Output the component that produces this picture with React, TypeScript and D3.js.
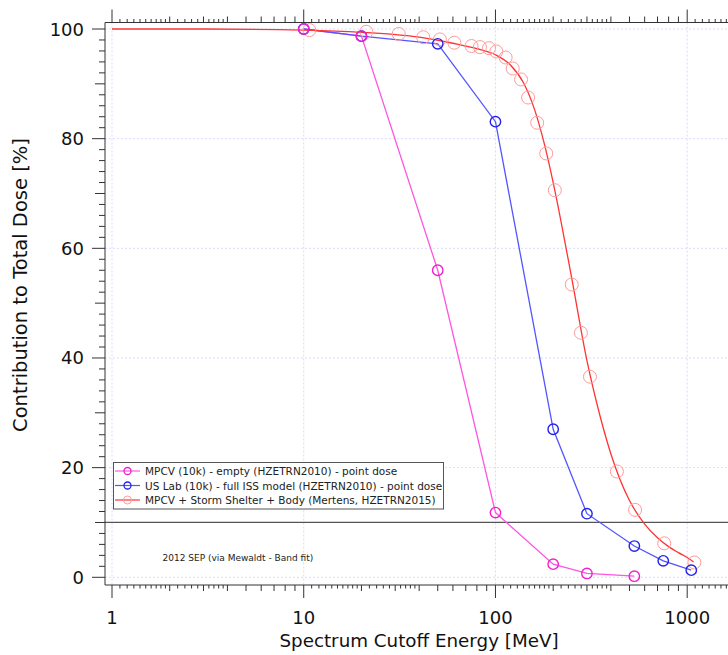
import React from 'react';
import * as d3 from 'd3';

// MPCV (10k) - empty, point dose
const mpcvEnergy = [10, 20, 50, 100, 200, 300, 530];
const mpcvDose = [100, 98.7, 56, 11.8, 2.4, 0.7, 0.2];

// US Lab (10k) - full ISS model, point dose
const labEnergy = [10, 20, 50, 100, 200, 300, 530, 750, 1050];
const labDose = [100, 98.7, 97.3, 83.1, 27.0, 11.6, 5.7, 3.0, 1.3];

// MPCV + Storm Shelter + Body (markers)
const shelterEnergy = [10.7, 21.2, 31.3, 42, 51.3, 61, 75, 83, 92.5, 101, 113, 123, 136, 148, 165, 184, 204, 250, 279, 311, 430, 535, 759, 1090];
const shelterDose = [99.8, 99.5, 99.1, 98.5, 98.1, 97.5, 96.9, 96.7, 96.5, 95.9, 94.8, 92.8, 90.8, 87.5, 82.9, 77.3, 70.6, 53.4, 44.6, 36.6, 19.3, 12.3, 6.2, 2.7];

// Band fit curve for the shelter case
const fitEnergy = [1, 3, 10, 20, 40, 60, 80, 100, 120, 140, 160, 180, 200, 250, 300, 350, 400, 500, 600, 700, 800, 900, 1000, 1080];
const fitDose = [100, 100, 99.8, 99.4, 98.5, 97.4, 96.4, 95.3, 93.4, 90.2, 85.3, 79.0, 72.0, 54.5, 39.5, 29.6, 22.5, 14.0, 9.7, 7.2, 5.6, 4.5, 3.6, 2.8];

const xTickLabels = [1, 10, 100, 1000];
const yTickLabels = [0, 20, 40, 60, 80, 100];
const referenceLevel = 10;

const legendItems = [
  { label: 'MPCV (10k) - empty (HZETRN2010) - point dose', line: '#ff55e0', mark: '#ee22cc', r: 3.5, sw: 1.3 },
  { label: 'US Lab (10k) - full ISS model (HZETRN2010) - point dose', line: '#5555ff', mark: '#2222ee', r: 3.5, sw: 1.3 },
  { label: 'MPCV + Storm Shelter + Body (Mertens, HZETRN2015)', line: '#ff3333', mark: '#ff9a9a', r: 4, sw: 1 },
];

const W = 728;
const H = 655;
const FONT = '"DejaVu Sans", Verdana, sans-serif';

const App = () => {
  const x = d3.scaleLog().domain([1, 1000]).range([112, 687.2]);
  const y = d3.scaleLinear().domain([0, 100]).range([577.3, 29]);

  const left = 105;
  const bottom = 585;
  const top = 22.5;

  // log minor ticks: fine / medium per decade
  const fineMult = [1.1, 1.2, 1.3, 1.4, 1.5, 1.6, 1.7, 1.8, 1.9, 2.2, 2.4, 2.6, 2.8, 3.2, 3.4, 3.6, 3.8];
  const midMult = [2, 3, 4, 5, 6, 7, 8, 9];
  const decades = [1, 10, 100, 1000];
  const xTicks: { v: number; len: number }[] = [];
  decades.forEach(d => {
    xTicks.push({ v: d, len: 13 });
    fineMult.forEach(m => xTicks.push({ v: d * m, len: 3.5 }));
    midMult.forEach(m => xTicks.push({ v: d * m, len: 6 }));
  });
  const xTicksVis = xTicks.filter(t => x(t.v) <= W);

  const yTicks = d3.range(0, 101, 2).map(v => ({
    v,
    len: v % 20 === 0 ? 13 : v % 10 === 0 ? 10 : 6,
  }));

  const lineGen = (xs: number[], ys: number[]) =>
    d3.line<number>().x(i => x(xs[i])).y(i => y(ys[i]))(d3.range(xs.length)) || '';

  const fitPath =
    d3.line<number>()
      .x(i => x(fitEnergy[i]))
      .y(i => y(fitDose[i]))
      .curve(d3.curveMonotoneX)(d3.range(fitEnergy.length)) || '';

  return (
    <svg width={W} height={H} style={{ position: 'absolute', left: 0, top: 0, background: '#fff' }} fontFamily={FONT}>
      {/* grid */}
      <g stroke="#d0d0ff" strokeWidth={0.8} strokeDasharray="2,2">
        {xTickLabels.map(v => (
          <line key={'gx' + v} x1={x(v)} x2={x(v)} y1={top} y2={bottom} />
        ))}
        {yTickLabels.map(v => (
          <line key={'gy' + v} x1={left} x2={W} y1={y(v)} y2={y(v)} />
        ))}
      </g>

      {/* 10% reference line */}
      <line x1={left} x2={W} y1={y(referenceLevel)} y2={y(referenceLevel)} stroke="#555" strokeWidth={1.2} />

      {/* axes */}
      <g stroke="#333" strokeWidth={1}>
        <line x1={left} x2={left} y1={top} y2={bottom} />
        <line x1={left} x2={W} y1={bottom} y2={bottom} />
        <line x1={left} x2={W} y1={top} y2={top} />
        {xTicksVis.map((t, i) => (
          <line key={'bx' + i} x1={x(t.v)} x2={x(t.v)} y1={bottom} y2={bottom + t.len} />
        ))}
        {xTicksVis.map((t, i) => (
          <line key={'tx' + i} x1={x(t.v)} x2={x(t.v)} y1={top} y2={top - t.len} />
        ))}
        {yTicks.map(t => (
          <line key={'y' + t.v} x1={left - t.len} x2={left} y1={y(t.v)} y2={y(t.v)} />
        ))}
      </g>

      {/* tick labels */}
      <g fontSize={18} fill="#111">
        {xTickLabels.map(v => (
          <text key={'lx' + v} x={x(v)} y={624} textAnchor="middle">{v}</text>
        ))}
        {yTickLabels.map(v => (
          <text key={'ly' + v} x={84} y={y(v)} textAnchor="end" dominantBaseline="central">{v}</text>
        ))}
      </g>

      {/* axis titles */}
      <text x={419} y={647} textAnchor="middle" fontSize={18.3} fill="#111">Spectrum Cutoff Energy [MeV]</text>
      <text transform="translate(27,285) rotate(-90)" textAnchor="middle" fontSize={19.5} fill="#111">
        Contribution to Total Dose [%]
      </text>

      {/* MPCV empty */}
      <path d={lineGen(mpcvEnergy, mpcvDose)} fill="none" stroke="#ff55e0" strokeWidth={1.3} />
      {/* US Lab */}
      <path d={lineGen(labEnergy, labDose)} fill="none" stroke="#5555ff" strokeWidth={1.3} />
      {/* fit curve */}
      <path d={fitPath} fill="none" stroke="#ff3333" strokeWidth={1.3} />

      {shelterEnergy.map((e, i) => (
        <circle key={'s' + i} cx={x(e)} cy={y(shelterDose[i])} r={6.5} fill="none" stroke="#ff9a9a" strokeWidth={1} />
      ))}
      {labEnergy.map((e, i) => (
        <circle key={'l' + i} cx={x(e)} cy={y(labDose[i])} r={5.2} fill="none" stroke="#2222ee" strokeWidth={1.4} />
      ))}
      {mpcvEnergy.map((e, i) => (
        <circle key={'m' + i} cx={x(e)} cy={y(mpcvDose[i])} r={5.2} fill="none" stroke="#ee22cc" strokeWidth={1.4} />
      ))}

      {/* legend */}
      <rect x={113.5} y={462.5} width={330} height={46.5} fill="#fff" stroke="#555" strokeWidth={1} />
      {legendItems.map((it, i) => {
        const cy = 471 + i * 14.5;
        return (
          <g key={'lg' + i}>
            <line x1={115} x2={140} y1={cy} y2={cy} stroke={it.line} strokeWidth={1.2} />
            <circle cx={127.5} cy={cy} r={it.r} fill="none" stroke={it.mark} strokeWidth={it.sw} />
            <text x={145} y={cy} dominantBaseline="central" fontSize={10.5} fill="#222">{it.label}</text>
          </g>
        );
      })}

      <text x={162.5} y={558} dominantBaseline="central" fontSize={9} fill="#222">2012 SEP (via Mewaldt - Band fit)</text>
    </svg>
  );
};

export default App;
